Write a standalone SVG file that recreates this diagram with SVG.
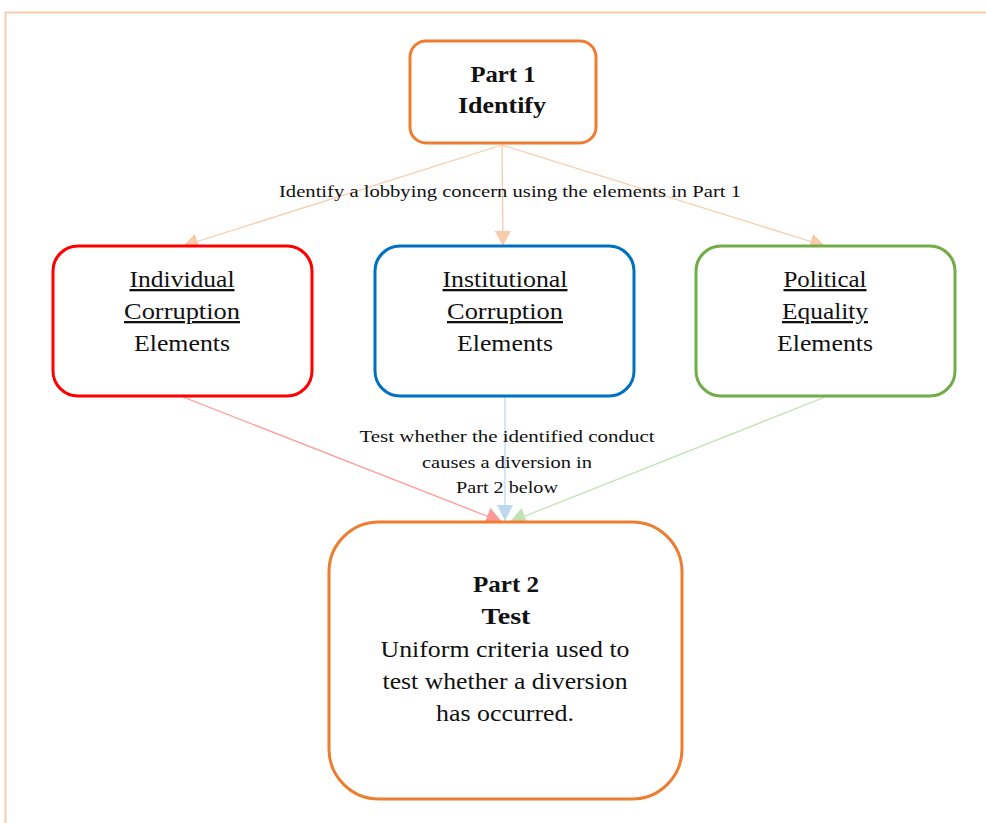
<svg xmlns="http://www.w3.org/2000/svg" width="986" height="823" viewBox="0 0 986 823">
<defs>
<style>
text{font-family:'Liberation Serif','Times New Roman',Times,serif;fill:#111;text-anchor:middle}
.b{font-weight:bold;font-size:23px}
.n{font-size:23px}
.u{text-decoration:underline}
.lbl{font-size:17px}
.box{fill:#fff;stroke-width:3}
</style>
<marker id="aO" markerWidth="15" markerHeight="16" refX="15" refY="8" orient="auto" markerUnits="userSpaceOnUse" viewBox="0 0 15 16"><path d="M0,0 L15,8 L0,16 z" fill="#F8CBAD"/></marker>
<marker id="aR" markerWidth="16" markerHeight="18" refX="16" refY="9" orient="auto" markerUnits="userSpaceOnUse" viewBox="0 0 16 18"><path d="M0,0 L16,9 L0,18 z" fill="#FF9999"/></marker>
<marker id="aB" markerWidth="16" markerHeight="16" refX="16" refY="8" orient="auto" markerUnits="userSpaceOnUse" viewBox="0 0 16 16"><path d="M0,0 L16,8 L0,16 z" fill="#BDD7EE"/></marker>
<marker id="aG" markerWidth="16" markerHeight="18" refX="16" refY="9" orient="auto" markerUnits="userSpaceOnUse" viewBox="0 0 16 18"><path d="M0,0 L16,9 L0,18 z" fill="#C5E0B4"/></marker>
</defs>
<rect width="986" height="823" fill="#fff"/>
<path d="M5.5,823 L5.5,12.5 L986,12.5" fill="none" stroke="#F8CBAD" stroke-width="2"/>
<g id="connectors">
<line x1="502" y1="145" x2="183" y2="246" stroke="#F8CBAD" stroke-width="1.3" marker-end="url(#aO)"/>
<line x1="502" y1="145" x2="503" y2="246" stroke="#F8CBAD" stroke-width="1.3" marker-end="url(#aO)"/>
<line x1="502" y1="145" x2="825" y2="246" stroke="#F8CBAD" stroke-width="1.3" marker-end="url(#aO)"/>
<line x1="183" y1="397" x2="502" y2="522" stroke="#FF9999" stroke-width="1.3" marker-end="url(#aR)"/>
<line x1="825" y1="397" x2="510" y2="522" stroke="#C5E0B4" stroke-width="1.3" marker-end="url(#aG)"/>
<line x1="505" y1="397" x2="505" y2="521" stroke="#BDD7EE" stroke-width="1.3" marker-end="url(#aB)"/>
<text class="lbl" x="510" y="197" textLength="462" lengthAdjust="spacingAndGlyphs">Identify a lobbying concern using the elements in Part 1</text>
<text class="lbl" x="507" y="442" textLength="295" lengthAdjust="spacingAndGlyphs">Test whether the identified conduct</text>
<text class="lbl" x="507" y="468" textLength="170" lengthAdjust="spacingAndGlyphs">causes a diversion in</text>
<text class="lbl" x="507" y="493" textLength="102" lengthAdjust="spacingAndGlyphs">Part 2 below</text>
</g>
<g id="part1">
<rect class="box" x="410" y="41" width="186" height="102" rx="16" stroke="#ED7D31"/>
<text class="b" x="503" y="82" textLength="65" lengthAdjust="spacingAndGlyphs">Part 1</text>
<text class="b" x="502" y="113" textLength="88" lengthAdjust="spacingAndGlyphs">Identify</text>
</g>
<g id="individual">
<rect class="box" x="53" y="246" width="259" height="150" rx="25" stroke="#FF0000"/>
<text class="n u" x="182" y="287" textLength="105" lengthAdjust="spacingAndGlyphs">Individual</text>
<text class="n u" x="182" y="319" textLength="116" lengthAdjust="spacingAndGlyphs">Corruption</text>
<text class="n" x="182" y="351" textLength="96" lengthAdjust="spacingAndGlyphs">Elements</text>
</g>
<g id="institutional">
<rect class="box" x="375" y="246" width="259" height="150" rx="25" stroke="#0070C0"/>
<text class="n u" x="505" y="287" textLength="125" lengthAdjust="spacingAndGlyphs">Institutional</text>
<text class="n u" x="505" y="319" textLength="116" lengthAdjust="spacingAndGlyphs">Corruption</text>
<text class="n" x="505" y="351" textLength="96" lengthAdjust="spacingAndGlyphs">Elements</text>
</g>
<g id="political">
<rect class="box" x="696" y="246" width="259" height="150" rx="25" stroke="#70AD47"/>
<text class="n u" x="825" y="287" textLength="83" lengthAdjust="spacingAndGlyphs">Political</text>
<text class="n u" x="825" y="319" textLength="86" lengthAdjust="spacingAndGlyphs">Equality</text>
<text class="n" x="825" y="351" textLength="96" lengthAdjust="spacingAndGlyphs">Elements</text>
</g>
<g id="part2">
<rect class="box" x="329" y="522" width="353" height="277" rx="50" stroke="#ED7D31"/>
<text class="b" x="506" y="592" textLength="66" lengthAdjust="spacingAndGlyphs">Part 2</text>
<text class="b" x="506" y="624" textLength="49" lengthAdjust="spacingAndGlyphs">Test</text>
<text class="n" x="505" y="657" textLength="249" lengthAdjust="spacingAndGlyphs">Uniform criteria used to</text>
<text class="n" x="505" y="689" textLength="245" lengthAdjust="spacingAndGlyphs">test whether a diversion</text>
<text class="n" x="505" y="721" textLength="138" lengthAdjust="spacingAndGlyphs">has occurred.</text>
</g>
</svg>
